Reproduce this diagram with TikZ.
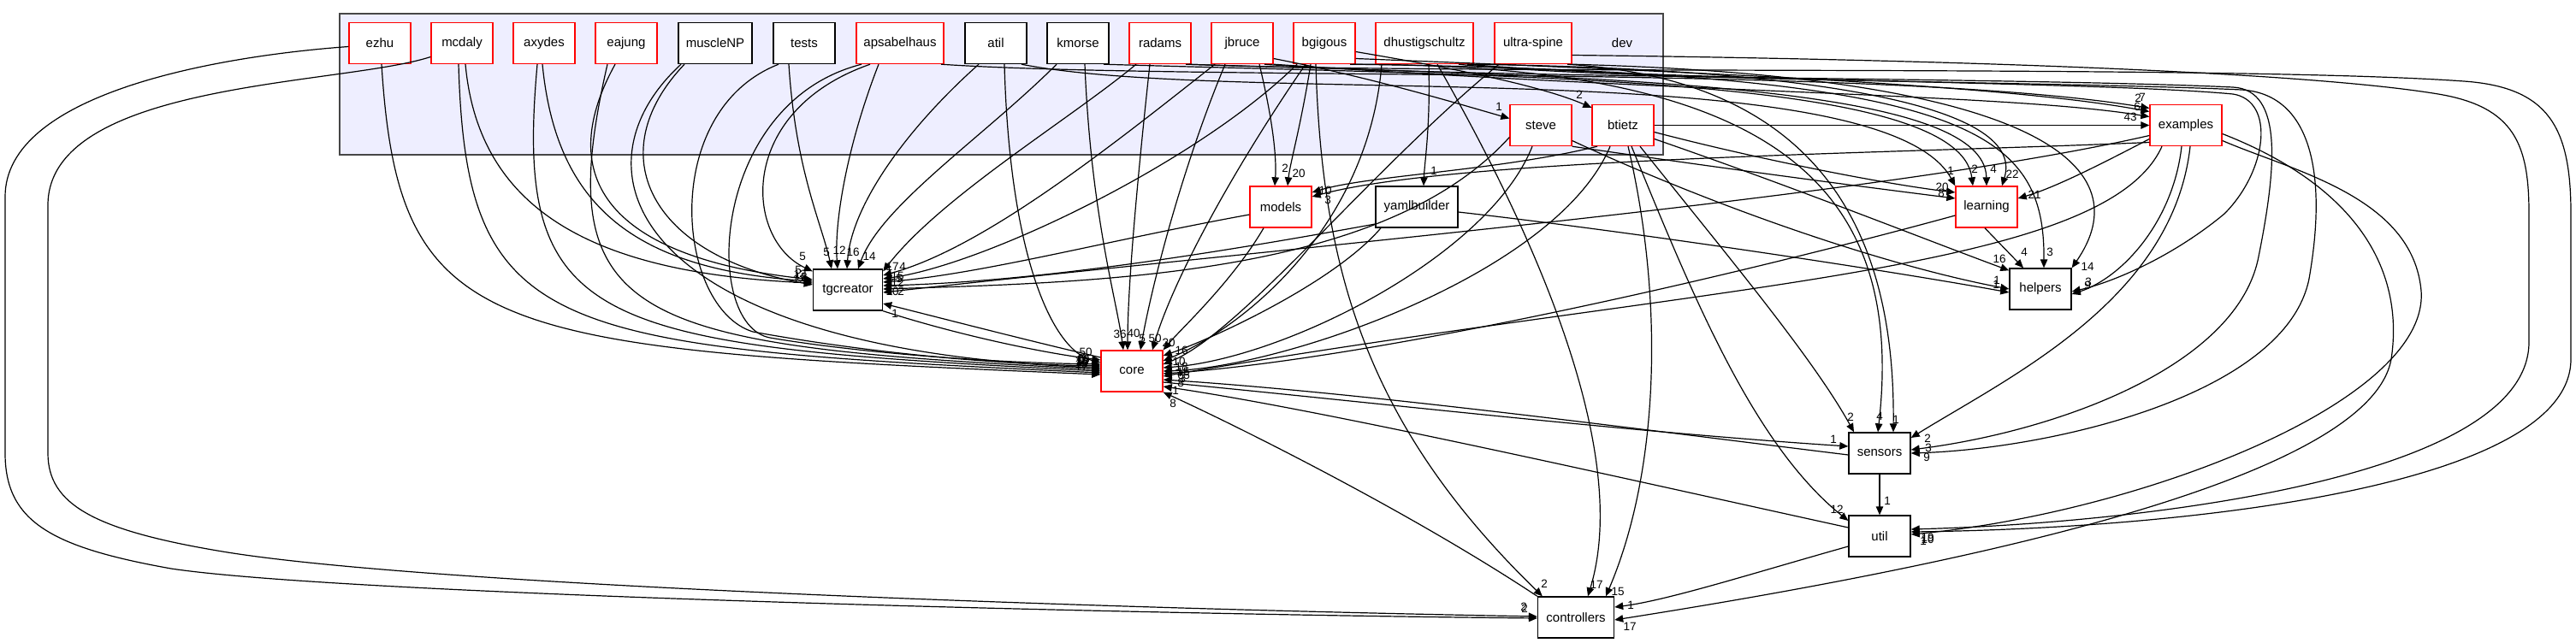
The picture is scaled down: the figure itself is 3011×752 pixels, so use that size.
\documentclass[tikz,border=0pt]{standalone}
\usepackage{fontspec}
\setmainfont{Liberation Sans}
\usetikzlibrary{arrows.meta}
\definecolor{dxred}{RGB}{255,0,0}
\definecolor{clfill}{RGB}{238,238,255}
\definecolor{clline}{RGB}{70,70,70}
\begin{document}
\begin{tikzpicture}[x=1pt,y=-1pt,
  box/.style={draw, line width=1.4pt, minimum height=48pt, minimum width=72pt, inner sep=0pt, fill=white, font=\fontsize{15}{18}\selectfont},
  rbox/.style={box, draw=dxred},
  kbox/.style={box, draw=black},
  dep/.style={line width=1.2pt, -{Triangle[length=10pt,width=8.5pt]}},
  lab/.style={font=\fontsize{13.5}{16}\selectfont, inner sep=0pt}]
\useasboundingbox (0,0) rectangle (3011,752);
% cluster
\node[draw=clline, fill=clfill, line width=1.4pt, minimum width=1547pt, minimum height=165pt, inner sep=0pt] (devbox) at (1170.5,98.5) {};
\node[font=\fontsize{15}{18}\selectfont] (devlabel) at (1896,50.5) {dev};
% nodes
\node[rbox] (ezhu) at (444,50.5) {ezhu};
\node[rbox] (mcdaly) at (540,50.5) {mcdaly};
\node[rbox] (axydes) at (636,50.5) {axydes};
\node[rbox] (eajung) at (732,50.5) {eajung};
\node[kbox, minimum width=86pt] (muscle) at (836,50.5) {muscleNP};
\node[kbox] (tests) at (940,50.5) {tests};
\node[rbox, minimum width=102pt] (apsa) at (1052,50.5) {apsabelhaus};
\node[kbox] (atil) at (1164,50.5) {atil};
\node[kbox] (kmorse) at (1260,50.5) {kmorse};
\node[rbox] (radams) at (1356,50.5) {radams};
\node[rbox] (jbruce) at (1452,50.5) {jbruce};
\node[rbox] (bgigous) at (1548,50.5) {bgigous};
\node[rbox, minimum width=114pt] (dhust) at (1665,50.5) {dhustigschultz};
\node[rbox, minimum width=90pt] (ultra) at (1792,50.5) {ultra-spine};
\node[rbox] (steve) at (1801,146.5) {steve};
\node[rbox] (btietz) at (1897,146.5) {btietz};
\node[rbox, minimum width=84pt] (examples) at (2555,146.5) {examples};
\node[rbox] (models) at (1497,242) {models};
\node[kbox, minimum width=96pt] (yaml) at (1656,242) {yamlbuilder};
\node[rbox] (learning) at (2322,242) {learning};
\node[kbox, minimum width=81pt] (tgc) at (991,339) {tgcreator};
\node[kbox] (helpers) at (2385,338) {helpers};
\node[rbox] (core) at (1323,434) {core};
\node[kbox] (sensors) at (2197,530) {sensors};
\node[kbox] (util) at (2197,627) {util};
\node[kbox, minimum width=89pt] (ctrl) at (1842,722) {controllers};

% far left loops
\draw[dep] ([yshift=-4pt]ezhu.west) .. controls (250,66) and (6,110) .. (6,230) -- (6,530) .. controls (6,610) and (60,640) .. (200,665) .. controls (400,695) and (1300,718) .. ([yshift=-1pt]ctrl.west) node[lab] at (1781,710) {2};
\draw[dep] ([yshift=-16pt]mcdaly.west) .. controls (400,100) and (56,95) .. (56,240) -- (56,530) .. controls (56,590) and (110,620) .. (260,645) .. controls (500,685) and (1300,712) .. ([yshift=1pt]ctrl.west) node[lab] at (1782,712) {2};

% left bundle into core
\draw[dep] ([xshift=2pt]ezhu.south) .. controls (466,395) and (566,408) .. ([yshift=-4pt]core.west) node[lab] at (1264,429) {17};
\draw[dep] ([xshift=-4pt]mcdaly.south) .. controls (545,392) and (640,406) .. ([yshift=-2pt]core.west) node[lab] at (1264,426) {10};
\draw[dep] ([xshift=-8pt]axydes.south) .. controls (600,385) and (690,404) .. (core.west) node[lab] at (1265,423) {16};
\draw[dep] ([xshift=-22pt]eajung.south) .. controls (640,380) and (740,404) .. ([yshift=2pt]core.west) node[lab] at (1266,421) {19};
\draw[dep] ([xshift=-40pt]muscle.south) .. controls (660,200) and (740,410) .. ([yshift=4pt]core.west) node[lab] at (1265,424) {12};
\draw[dep] ([xshift=-30pt]tests.south) .. controls (770,130) and (790,360) .. (880,388) .. controls (1000,410) and (1150,426) .. ([yshift=6pt]core.west) node[lab] at (1264,422) {10};
\draw[dep] ([xshift=-45pt]apsa.south) .. controls (830,120) and (820,380) .. (900,395) .. controls (1000,412) and (1150,424) .. ([yshift=8pt]core.west) node[lab] at (1266,420) {16};
\draw[dep] ([xshift=10pt]atil.south) .. controls (1180,300) and (1230,410) .. ([yshift=10pt]core.west) node[lab] at (1265,419) {6};
\draw[dep] (tgc.south east) .. controls (1120,392) and (1220,413) .. ([yshift=13pt]core.west) node[lab] at (1269,412) {50};
\draw[dep] ([yshift=16pt]core.west) .. controls (1200,398) and (1100,372) .. ([yshift=-16pt]tgc.east) node[lab] at (1046,367) {1};

% into tgcreator west
\draw[dep] ([xshift=4pt]mcdaly.south) .. controls (560,250) and (700,320) .. ([yshift=8pt]tgc.west) node[lab] at (933,316) {5};
\draw[dep] ([xshift=-2pt]axydes.south) .. controls (650,240) and (740,315) .. ([yshift=10pt]tgc.west) node[lab] at (935,321) {13};
\draw[dep] ([xshift=-13pt]eajung.south) .. controls (650,200) and (700,300) .. ([yshift=12pt]tgc.west) node[lab] at (936,324) {18};
\draw[dep] ([xshift=-36pt]muscle.south) .. controls (700,180) and (760,300) .. ([yshift=6pt]tgc.west) node[lab] at (934,327) {12};
\draw[dep] ([xshift=-35pt]apsa.south) .. controls (860,130) and (870,280) .. ([yshift=-3pt]tgc.north west) node[lab] at (938,300) {5};
% into tgcreator top
\draw[dep] ([xshift=-18pt]tests.south) .. controls (930,200) and (960,260) .. ([xshift=-19pt]tgc.north) node[lab] at (966,295) {5};
\draw[dep] ([xshift=-25pt]apsa.south) .. controls (990,170) and (975,260) .. ([xshift=-12pt]tgc.north) node[lab] at (981,293) {12};
\draw[dep] ([xshift=-20pt]atil.south) .. controls (1060,150) and (995,240) .. ([xshift=-1pt]tgc.north) node[lab] at (997,295) {16};
\draw[dep] ([xshift=-25pt]kmorse.south) .. controls (1150,160) and (1030,240) .. ([xshift=12pt]tgc.north) node[lab] at (1016,300) {14};
% into tgcreator east
\draw[dep] ([xshift=-28pt]radams.south) .. controls (1250,140) and (1100,230) .. ([yshift=-3pt]tgc.north east) node[lab] at (1055,312) {4};
\draw[dep] ([xshift=-32pt]jbruce.south) .. controls (1300,170) and (1150,290) .. ([yshift=17pt]tgc.east) node[lab] at (1043,312) {17};
\draw[dep] ([xshift=-32pt]bgigous.south) .. controls (1400,190) and (1150,310) .. ([yshift=13pt]tgc.east) node[lab] at (1049,323) {15};
\draw[dep] ([yshift=-9pt]models.west) .. controls (1300,280) and (1150,320) .. ([yshift=9pt]tgc.east) node[lab] at (1051,326) {5};
\draw[dep] ([yshift=-20pt]yaml.west) .. controls (1400,300) and (1200,330) .. ([yshift=5pt]tgc.east) node[lab] at (1049,331) {12};
\draw[dep] ([yshift=-14pt]steve.west) .. controls (1620,320) and (1300,330) .. ([yshift=1pt]tgc.east) node[lab] at (1043,341) {10};
\draw[dep] ([yshift=-12pt]examples.west) .. controls (2200,230) and (1500,290) .. ([yshift=-3pt]tgc.east) node[lab] at (1053,341) {2};

% into core top
\draw[dep] ([xshift=8pt]kmorse.south) .. controls (1275,250) and (1305,350) .. ([xshift=-10pt]core.north) node[lab] at (1309,391) {36};
\draw[dep] ([xshift=-12pt]radams.south) .. controls (1325,250) and (1318,350) .. ([xshift=-5pt]core.north) node[lab] at (1325,390) {40};
\draw[dep] ([xshift=-20pt]jbruce.south) .. controls (1380,200) and (1345,340) .. ([xshift=10pt]core.north) node[lab] at (1335,396) {5};
\draw[dep] ([xshift=-22pt]bgigous.south) .. controls (1440,200) and (1370,330) .. ([xshift=24pt]core.north) node[lab] at (1350,396) {50};
\draw[dep] ([xshift=-20pt]models.south) .. controls (1440,330) and (1380,385) .. (core.north east) node[lab] at (1366,401) {20};
\draw[dep] ([xshift=-42pt]yaml.south) .. controls (1560,330) and (1420,395) .. ([yshift=18pt]core.east) node[lab] at (1381,410) {16};
% into core east
\draw[dep] ([xshift=-50pt]dhust.south) .. controls (1600,260) and (1460,380) .. ([yshift=12pt]core.east) node[lab] at (1378,423) {10};
\draw[dep] ([xshift=-40pt]ultra.south) .. controls (1600,200) and (1450,390) .. ([yshift=8pt]core.east) node[lab] at (1381,429) {18};
\draw[dep] ([xshift=-10pt]steve.south) .. controls (1740,300) and (1500,420) .. ([yshift=4pt]core.east) node[lab] at (1383,435) {15};
\draw[dep] ([xshift=-15pt]btietz.south) .. controls (1820,320) and (1500,430) .. (core.east) node[lab] at (1380,439) {6};
\draw[dep] ([yshift=-10pt]learning.west) .. controls (2000,330) and (1600,420) .. ([yshift=-3pt]core.east) node[lab] at (1387,439) {5};
\draw[dep] ([xshift=-28pt]examples.south) .. controls (2460,320) and (2000,330) .. ([yshift=-6pt]core.east) node[lab] at (1382,443) {3};
\draw[dep] ([yshift=-2pt]sensors.west) .. controls (1900,500) and (1600,460) .. ([yshift=-10pt]core.east) node[lab] at (1380,448) {8};
\draw[dep] ([yshift=-13pt]core.east) .. controls (1600,470) and (1900,505) .. ([yshift=8pt]sensors.west) node[lab] at (2143,514) {1};
\draw[dep] ([yshift=10pt]util.west) .. controls (1900,560) and (1550,480) .. ([yshift=-18pt]core.east) node[lab] at (1374,457) {1};
\draw[dep] (ctrl.north west) .. controls (1650,600) and (1450,500) .. (core.south east) node[lab] at (1371,472) {8};

% into controllers
\draw[dep] ([xshift=-10pt]bgigous.south) .. controls (1545,320) and (1600,500) .. ([xshift=6pt]ctrl.north west) node[lab] at (1805,683) {2};
\draw[dep] ([xshift=15pt]dhust.south) .. controls (1780,250) and (1910,520) .. ([xshift=14pt]ctrl.north) node[lab] at (1866,684) {17};
\draw[dep] ([xshift=6pt]btietz.south) .. controls (1945,350) and (1940,550) .. ([xshift=35pt]ctrl.north) node[lab] at (1891,692) {15};
\draw[dep] ([yshift=-12pt]util.west) .. controls (2050,670) and (1950,702) .. ([yshift=12pt]ctrl.east) node[lab] at (1906,708) {1};
\draw[dep] ([yshift=-10pt]examples.east) .. controls (2760,220) and (2810,320) .. (2795,420) .. controls (2770,560) and (2300,660) .. ([yshift=-3pt]ctrl.east) node[lab] at (1905,733) {17};

% sensors / util
\draw[dep] (sensors.south) -- (util.north) node[lab] at (2206,586) {1};
\draw[dep] ([xshift=20pt]btietz.south) .. controls (2020,300) and (2120,420) .. ([xshift=-30pt]sensors.north) node[lab] at (2163,488) {2};
\draw[dep] ([xshift=30pt]bgigous.south) .. controls (2050,75) and (2230,200) .. ([xshift=-2pt]sensors.north) node[lab] at (2197,487) {4};
\draw[dep] ([xshift=40pt]ultra.south) .. controls (2150,95) and (2215,300) .. ([xshift=16pt]sensors.north) node[lab] at (2216,491) {1};
\draw[dep] ([xshift=5pt]examples.south) .. controls (2540,350) and (2350,440) .. ([yshift=18pt]sensors.east) node[lab] at (2253,513) {2};
\draw[dep] ([xshift=26pt]jbruce.south) .. controls (1700,92) and (2350,90) .. (2610,102) .. controls (2670,105) and (2660,200) .. (2640,300) .. controls (2615,430) and (2400,505) .. ([yshift=4pt]sensors.east) node[lab] at (2254,524) {3};
\draw[dep] ([xshift=40pt]dhust.south) .. controls (1900,95) and (2400,95) .. (2620,105) .. controls (2700,110) and (2720,200) .. (2700,320) .. controls (2680,460) and (2400,525) .. (sensors.east) node[lab] at (2252,535) {9};
\draw[dep] ([xshift=10pt]btietz.south) .. controls (1980,350) and (2050,520) .. ([yshift=18pt]util.west) node[lab] at (2147,596) {12};
\draw[dep] ([yshift=-14pt]ultra.east) .. controls (2300,70) and (2700,85) .. (2850,110) .. controls (2940,125) and (2956,170) .. (2956,250) -- (2956,400) .. controls (2956,560) and (2500,612) .. ([yshift=8pt]util.east) node[lab] at (2253,629) {19};
\draw[dep] ([xshift=34pt]radams.south) .. controls (1700,88) and (2600,75) .. (2880,95) .. controls (2980,102) and (3005,150) .. (3005,250) -- (3005,420) .. controls (3005,570) and (2550,618) .. ([yshift=5pt]util.east) node[lab] at (2253,631) {10};
\draw[dep] ([yshift=-18pt]examples.east) .. controls (2680,200) and (2820,230) .. (2830,340) .. controls (2840,470) and (2500,600) .. ([yshift=2pt]util.east) node[lab] at (2248,633) {1};

% into learning
\draw[dep] ([xshift=30pt]atil.south) .. controls (1450,125) and (2200,60) .. (learning.north west) node[lab] at (2280,200) {1};
\draw[dep] ([xshift=30pt]kmorse.south) .. controls (1800,90) and (2290,90) .. ([xshift=-16pt]learning.north) node[lab] at (2308,198) {2};
\draw[dep] ([xshift=30pt]radams.south) .. controls (1900,90) and (2320,100) .. (learning.north) node[lab] at (2330,198) {4};
\draw[dep] ([xshift=55pt]dhust.south) .. controls (2100,80) and (2370,120) .. ([xshift=18pt]learning.north) node[lab] at (2352,204) {22};
\draw[dep] ([yshift=-8pt]btietz.east) .. controls (2050,185) and (2200,215) .. ([yshift=17pt]learning.west) node[lab] at (2270,219) {20};
\draw[dep] (steve.south east) .. controls (2000,195) and (2150,215) .. ([yshift=10pt]learning.west) node[lab] at (2269,226) {8};
\draw[dep] ([yshift=-16pt]examples.west) .. controls (2450,195) and (2400,220) .. ([yshift=10pt]learning.east) node[lab] at (2378,228) {21};

% into helpers
\draw[dep] ([xshift=-2pt]learning.south) -- ([xshift=-20pt]helpers.north) node[lab] at (2366,295) {4};
\draw[dep] ([yshift=-16pt]btietz.east) .. controls (2100,220) and (2250,280) .. ([yshift=-3pt]helpers.north west) node[lab] at (2337,303) {16};
\draw[dep] ([yshift=-18pt]steve.east) .. controls (2000,240) and (2200,310) .. (helpers.west) node[lab] at (2334,328) {1};
\draw[dep] ([yshift=-6pt]yaml.east) .. controls (1900,270) and (2200,315) .. ([yshift=-4pt]helpers.west) node[lab] at (2333,333) {1};
\draw[dep] ([xshift=34pt]bgigous.south) .. controls (2300,85) and (2390,150) .. ([xshift=4pt]helpers.north) node[lab] at (2396,295) {3};
\draw[dep] (ultra.south east) .. controls (2400,90) and (2500,200) .. (helpers.north east) node[lab] at (2440,312) {14};
\draw[dep] ([xshift=-5pt]examples.south) .. controls (2540,260) and (2480,325) .. ([yshift=-6pt]helpers.east) node[lab] at (2440,334) {9};
\draw[dep] ([xshift=50pt]dhust.south) .. controls (1950,95) and (2450,95) .. (2610,110) .. controls (2660,118) and (2650,200) .. (2600,250) .. controls (2540,300) and (2470,330) .. ([yshift=-3pt]helpers.east) node[lab] at (2441,330) {3};

% into examples
\draw[dep] (btietz.east) -- (examples.west) node[lab] at (2490,137) {43};
\draw[dep] ([xshift=48pt]apsa.south) .. controls (1400,95) and (2200,75) .. ([yshift=20pt]examples.west) node[lab] at (2499,115) {2};
\draw[dep] ([yshift=-18pt]bgigous.east) .. controls (2000,85) and (2350,100) .. ([yshift=16pt]examples.west) node[lab] at (2504,114) {7};
\draw[dep] (jbruce.south east) .. controls (2000,110) and (2350,110) .. ([yshift=10pt]examples.west) node[lab] at (2498,125) {6};

% models, yamlbuilder, steve, btietz
\draw[dep] ([xshift=20pt]jbruce.south) .. controls (1490,150) and (1492,190) .. ([xshift=-7pt]models.north) node[lab] at (1502,197) {2};
\draw[dep] ([xshift=-16pt]bgigous.south) .. controls (1520,150) and (1508,190) .. ([xshift=8pt]models.north) node[lab] at (1518,203) {20};
\draw[dep] ([xshift=-30pt]btietz.south) .. controls (1750,200) and (1600,205) .. ([yshift=17pt]models.east) node[lab] at (1549,223) {10};
\draw[dep] ([yshift=-20pt]examples.west) .. controls (2200,180) and (1700,185) .. ([yshift=12pt]models.east) node[lab] at (1552,234) {3};
\draw[dep] ([xshift=5pt]dhust.south) .. controls (1672,150) and (1665,190) .. ([xshift=8pt]yaml.north) node[lab] at (1676,200) {1};
\draw[dep] ([yshift=-18pt]jbruce.east) .. controls (1600,90) and (1700,120) .. ([yshift=8pt]steve.west) node[lab] at (1752,125) {1};
\draw[dep] ([yshift=-10pt]bgigous.east) .. controls (1700,80) and (1800,100) .. ([yshift=-4pt]btietz.north west) node[lab] at (1846,111) {2};
\end{tikzpicture}
\end{document}
